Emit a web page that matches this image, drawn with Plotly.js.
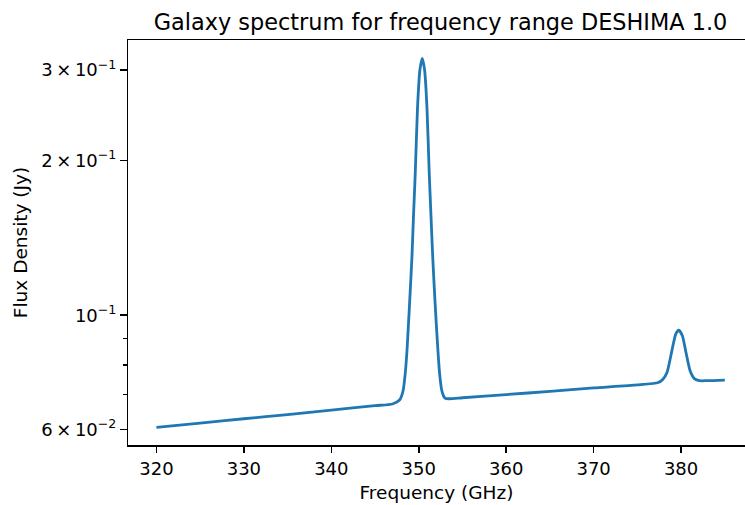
<!DOCTYPE html>
<html>
<head>
<meta charset="utf-8">
<script src="https://cdn.plot.ly/plotly-3.0.1.min.js"></script>
<style>html,body{margin:0;padding:0;background:#fff;}#chart{width:745px;height:505px;}</style>
</head>
<body>
<div id="chart"></div>
<script>
// Frequency (GHz) and flux density (Jy)
const frequency = [320, 325, 330, 335, 340, 345, 347, 347.8, 348.2, 348.46, 348.65, 348.83, 349.02, 349.22, 349.4, 349.6, 349.86, 350.13, 350.4, 350.67, 350.94, 351.2, 351.4, 351.6, 351.8, 352.0, 352.2, 352.38, 352.65, 353.0, 353.5, 355, 360, 365, 370, 375, 377.4, 377.9, 378.4, 378.9, 379.4, 379.75, 380.15, 380.55, 381.05, 381.55, 382.1, 383, 385];
const flux = [0.0605, 0.0617, 0.0629, 0.0641, 0.0654, 0.0667, 0.0672, 0.0684, 0.0712, 0.0772, 0.0850, 0.0965, 0.1110, 0.1296, 0.1560, 0.1887, 0.2534, 0.3000, 0.3160, 0.3000, 0.2534, 0.1887, 0.1560, 0.1296, 0.1110, 0.0965, 0.0850, 0.0772, 0.0712, 0.0690, 0.0688, 0.0691, 0.0701, 0.0711, 0.0722, 0.0732, 0.0740, 0.0750, 0.0775, 0.0845, 0.0920, 0.0935, 0.0912, 0.0848, 0.0778, 0.0752, 0.0746, 0.0746, 0.0748];

const xTickVals = [320, 330, 340, 350, 360, 370, 380];
const xTickText = ["320", "330", "340", "350", "360", "370", "380"];
const yTickVals = [0.06, 0.1, 0.2, 0.3];
const yTickText = ["6\u2009×\u200910<sup>−2</sup>", "10<sup>−1</sup>", "2\u2009×\u200910<sup>−1</sup>", "3\u2009×\u200910<sup>−1</sup>"];
const yMinorVals = [0.07, 0.08, 0.09];

const font = "DejaVu Sans, sans-serif";

const trace = {
  x: frequency, y: flux, type: "scatter", mode: "lines",
  line: {color: "#1f77b4", width: 2.8, shape: "spline", smoothing: 0.6},
  hoverinfo: "skip"
};

const layout = {
  width: 745, height: 505,
  paper_bgcolor: "#fff", plot_bgcolor: "#fff",
  margin: {l: 128, r: 0, t: 40, b: 60},
  showlegend: false,
  font: {family: font, color: "#000", size: 18},
  title: {text: "Galaxy spectrum for frequency range DESHIMA 1.0", font: {family: font, size: 22.4, color: "#000"},
          xref: "container", yref: "container", x: 0.5913, y: 0.956, xanchor: "center", yanchor: "middle"},
  xaxis: {
    range: [316.75, 387.31], tickmode: "array", tickvals: xTickVals, ticktext: xTickText,
    ticks: "outside", ticklen: 6.5, tickwidth: 1.5, tickcolor: "#000",
    showline: true, linecolor: "#000", linewidth: 1.5, mirror: true,
    showgrid: false, zeroline: false, automargin: false,
    tickfont: {family: font, size: 18, color: "#000"},
    title: {text: "Frequency (GHz)", font: {family: font, size: 18.5, color: "#000"}, standoff: 8}
  },
  yaxis: {
    type: "log", range: [-1.2524, -0.4646], tickmode: "array", tickvals: yTickVals, ticktext: yTickText,
    ticks: "outside", ticklen: 6.5, tickwidth: 1.5, tickcolor: "#000",
    minor: {tickmode: "array", tickvals: yMinorVals, ticks: "outside", ticklen: 3.7, tickwidth: 1.2, tickcolor: "#000", showgrid: false},
    showline: true, linecolor: "#000", linewidth: 1.5, mirror: false,
    showgrid: false, zeroline: false, automargin: false,
    tickfont: {family: font, size: 18, color: "#000"},
    title: {text: "Flux Density (Jy)", font: {family: font, size: 18.5, color: "#000"}, standoff: 8}
  }
};

Plotly.newPlot("chart", [trace], layout, {staticPlot: true, displayModeBar: false});
</script>
</body>
</html>
